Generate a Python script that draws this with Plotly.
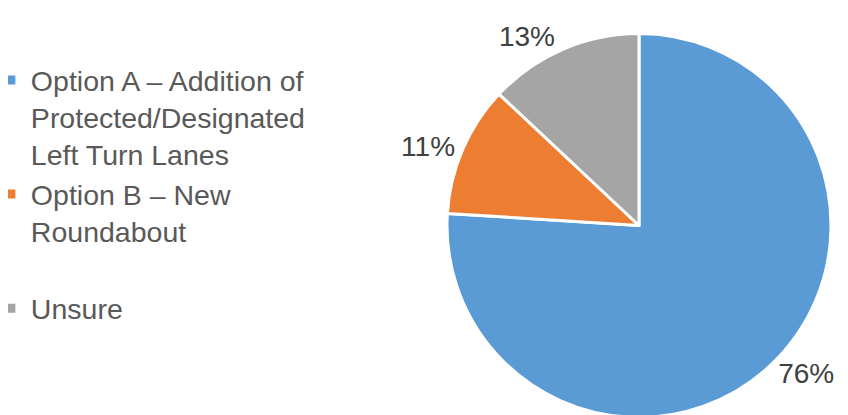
import plotly.graph_objects as go

labels = ["Option A – Addition of<br>Protected/Designated<br>Left Turn Lanes",
          "Option B – New<br>Roundabout<br> ",
          "Unsure"]
values = [76, 11, 13]
colors = ["#5B9BD5", "#ED7D31", "#A5A5A5"]

fig = go.Figure(go.Pie(
    labels=labels,
    values=values,
    sort=False,
    direction="clockwise",
    rotation=0,
    marker=dict(colors=colors, line=dict(color="white", width=3)),
    textinfo="percent",
    texttemplate="%{percent:.0%}",
    textposition="outside",
    outsidetextfont=dict(family="Liberation Sans, Arial, sans-serif", size=28, color="#404040"),
    domain=dict(x=[0.5171, 0.9711], y=[0.0133, 0.9386]),
    hoverinfo="none",
))

fig.update_layout(
    width=848, height=415,
    margin=dict(l=0, r=0, t=0, b=0, autoexpand=False),
    paper_bgcolor="white",
    plot_bgcolor="white",
    font=dict(family="Liberation Sans, Arial, sans-serif", color="#595959"),
    showlegend=True,
    legend=dict(
        x=-0.0202, y=0.887, xanchor="left", yanchor="top",
        font=dict(size=28.5, color="#595959"),
        valign="top",
        itemwidth=30,
        bgcolor="rgba(0,0,0,0)",
    ),
)

fig.write_html("out.html")
